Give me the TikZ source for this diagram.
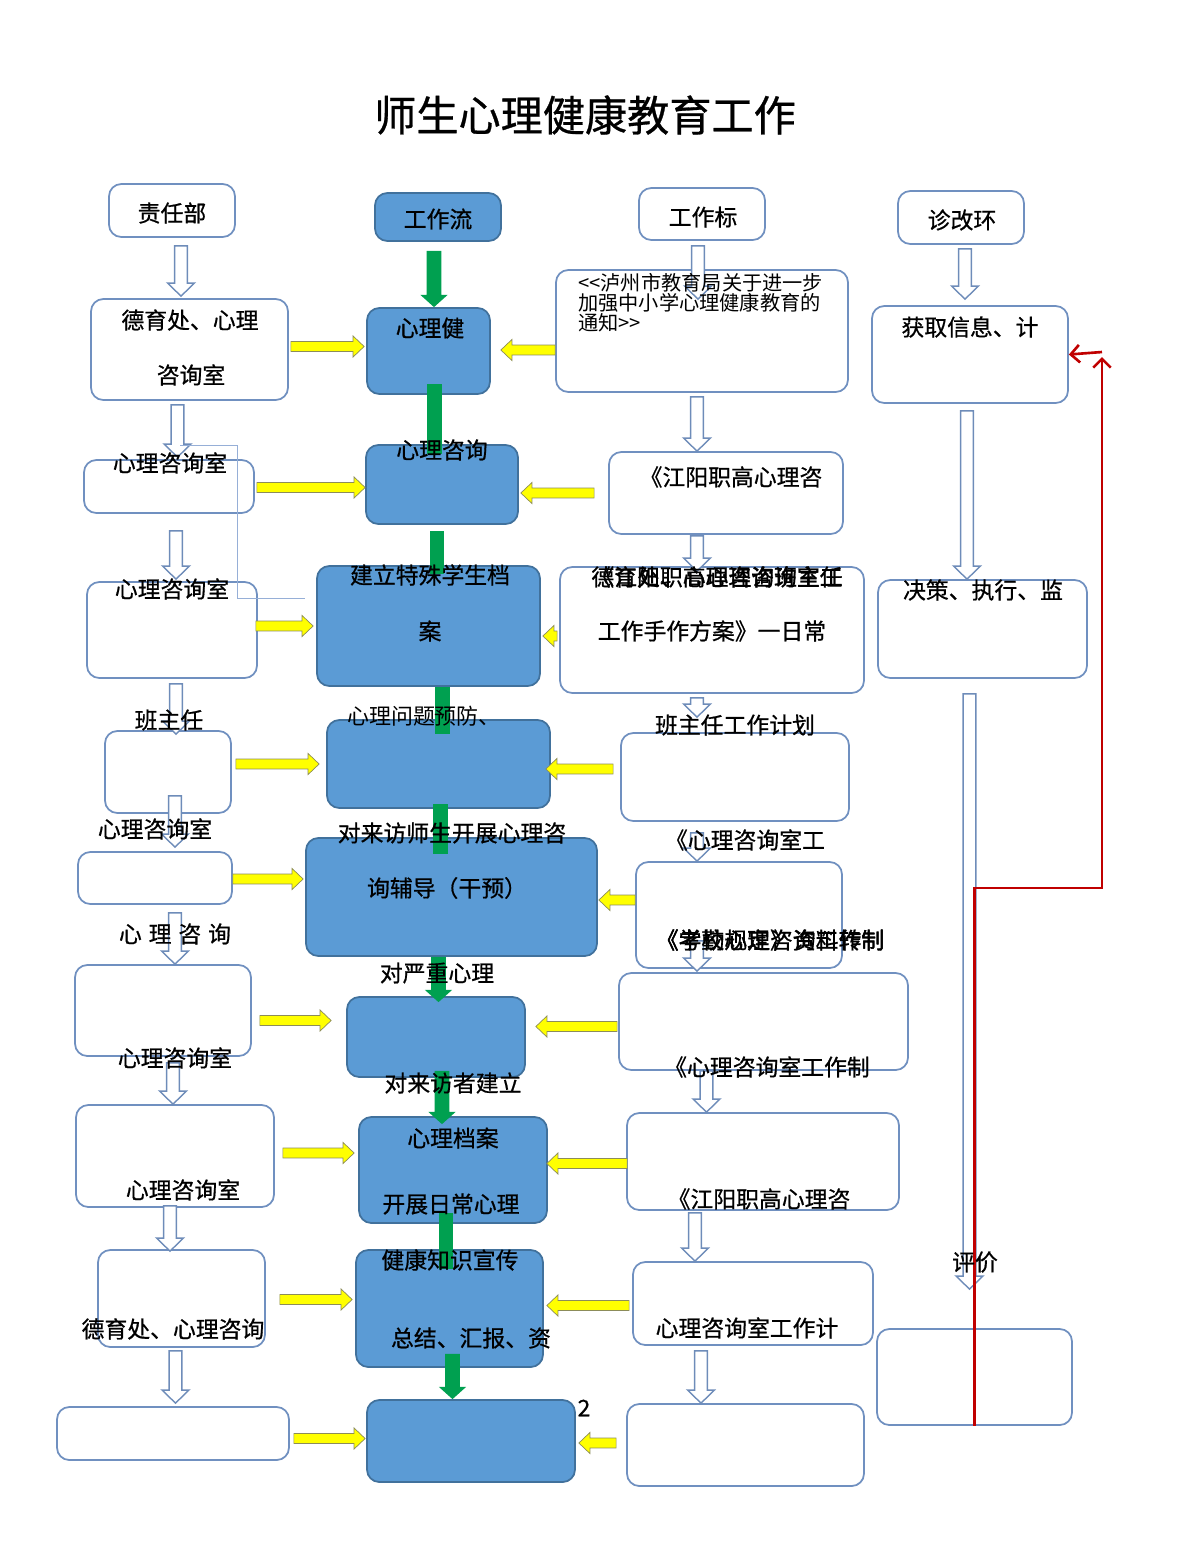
\documentclass[tikz,border=0pt]{standalone}
\usepackage{fontspec}
\setmainfont{Noto Sans CJK SC}[FakeBold=0.7]
\newfontfamily\thinfont{Noto Sans CJK SC}
\usetikzlibrary{fit,calc,arrows.meta}
\definecolor{boxline}{RGB}{112,144,192}
\definecolor{bluefill}{RGB}{91,155,213}
\definecolor{blueline}{RGB}{65,113,156}
\definecolor{arrline}{RGB}{110,140,185}
\definecolor{yel}{RGB}{255,255,0}
\definecolor{yelline}{RGB}{140,140,90}
\definecolor{grn}{RGB}{0,160,80}
\definecolor{redln}{RGB}{192,0,0}
\definecolor{thinblue}{RGB}{150,175,215}

\begin{document}
\begin{tikzpicture}[x=0.02cm, y=-0.02cm,
		wbox/.style={draw=boxline, line width=1pt, rounded corners=7pt, fill=white, inner sep=0pt},
		bbox/.style={draw=blueline, line width=1pt, rounded corners=7pt, fill=bluefill, inner sep=0pt},
		lbl/.style={font=\fontsize{13}{15}\selectfont, inner sep=0pt},
		shaftw/.store in=\arrsw, headw/.store in=\arrhw, tipl/.store in=\arrtl,
		hollowarr/.style={draw=arrline, fill=white, line width=0.8pt, shaftw=3.6pt, headw=7.6pt, tipl=7.4pt},
		yelarr/.style={draw=yelline, fill=yel, line width=0.4pt, shaftw=2.8pt, headw=6pt, tipl=6.3pt},
		grnarr/.style={draw=none, fill=grn, shaftw=4.2pt, headw=7.8pt, tipl=7pt},
		redarr/.style={draw=redln, line width=1.5pt, -{Straight Barb[length=5pt,width=10pt]}},
		downblk/.style={to path={let \p1=(\tikztostart), \p2=(\tikztotarget) in
			(\x1-\arrsw,\y1) -- (\x1-\arrsw,\y2+\arrtl) -- (\x1-\arrhw,\y2+\arrtl) -- (\x1,\y2)
			-- (\x1+\arrhw,\y2+\arrtl) -- (\x1+\arrsw,\y2+\arrtl) -- (\x1+\arrsw,\y1) -- cycle}},
		downbar/.style={to path={let \p1=(\tikztostart), \p2=(\tikztotarget) in
			(\x1-\arrsw,\y1) rectangle (\x1+\arrsw,\y2)}},
		rightblk/.style={to path={let \p1=(\tikztostart), \p2=(\tikztotarget) in
			(\x1,\y1-\arrsw) -- (\x2-\arrtl,\y1-\arrsw) -- (\x2-\arrtl,\y1-\arrhw) -- (\x2,\y1)
			-- (\x2-\arrtl,\y1+\arrhw) -- (\x2-\arrtl,\y1+\arrsw) -- (\x1,\y1+\arrsw) -- cycle}},
		leftblk/.style={to path={let \p1=(\tikztostart), \p2=(\tikztotarget) in
			(\x1,\y1-\arrsw) -- (\x2+\arrtl,\y1-\arrsw) -- (\x2+\arrtl,\y1-\arrhw) -- (\x2,\y1)
			-- (\x2+\arrtl,\y1+\arrhw) -- (\x2+\arrtl,\y1+\arrsw) -- (\x1,\y1+\arrsw) -- cycle}}
		]
		\useasboundingbox (0,0) rectangle (1200,1553);
		
		\node[font=\fontsize{24}{28}\selectfont, inner sep=0pt] (title) at (585,115) {师生心理健康教育工作};
		
		% white boxes
		\foreach \nm/\xa/\ya/\xb/\yb in {A0/109/184/235/237, A1/91/299/288/400, A2/84/460/254/513,
			A3/87/582/257/678, A4/105/731/231/813, A5/78/852/232/904, A6/75/965/251/1056,
			A7/76/1105/274/1207, A8/98/1250/265/1347, A9/57/1407/289/1460,
			C0/639/188/765/240, C1/556/270/848/392, C2/609/452/843/534, C3/560/567/864/693,
			C4/621/733/849/821, C5/636/862/842/968, C6/619/973/908/1070, C7/627/1113/899/1210,
			C8/633/1262/873/1345, C9/627/1404/864/1486,
			D0/898/191/1024/244, D1/872/306/1068/403, D2/878/580/1087/678, D3/877/1329/1072/1425}
		\node[wbox, fit={(\xa,\ya) (\xb,\yb)}] (\nm) {};
		
		% blue boxes
		\foreach \nm/\xa/\ya/\xb/\yb in {B0/375/193/501/241, B1/367/308/490/394, B2/366/445/518/524,
			B3/317/566/540/686, B4/327/720/550/808, B5/306/838/597/956, B6/347/997/525/1077,
			B7/359/1117/547/1223, B8/356/1250/543/1367, B9/367/1400/575/1482}
		\node[bbox, fit={(\xa,\ya) (\xb,\yb)}] (\nm) {};
		
		% hollow arrows
		\foreach \s/\dx/\dy/\t/\o in {A0/9/8/A1/-2, A1/-12/4/A2/-2, A2/7/17/A3/-2, A3/4/5/A4/4,
			A4/7/-18/A5/-4, A5/20/8/A6/0, A6/10/6/A7/0, A7/-5/-2/A8/2, A8/-6/3/A9/-3,
			C0/-4/5/C1/30, C1/-5/4/C2/0, C2/-29/1/C3/5, C3/-15/4/C4/-15, C4/-38/11/C5/0,
			C5/-42/-28/C6/-1, C6/-57/0/C7/0, C7/-68/2/C8/0, C8/-52/5/C9/0,
			D0/4/4/D1/-6, D1/-3/7/D2/0, D2/-13/15/D3/-39}
		\draw[hollowarr] (\s.south) ++(\dx,\dy) to[downblk] ($(\t.north)+(0,\o)$);
		
		% yellow arrows
		\foreach \s/\dx/\dy/\t/\o in {A1/2/-3/B1/-2, A2/2/1/B2/0, A3/-2/-4/B3/-3, A4/4/-8/B4/-7,
			A5/0/1/B5/-2, A6/8/10/B6/-15, A7/8/-3/B7/-4, A8/14/1/B8/-3, A9/4/5/B9/-1}
		\draw[yelarr] (\s.east) ++(\dx,\dy) to[rightblk] ($(\t.west)+(\o,0)$);
		\foreach \s/\dx/\dy/\t/\o in {C1/0/19/B1/10, C2/-14/0/B2/2, C3/-2/6/B3/2, C4/-7/-8/B4/-5,
			C5/0/-15/B5/1, C6/-1/5/B6/10, C7/1/2/B7/-1, C8/-3/2/B8/3, C9/-10/-2/B9/3}
		\draw[yelarr] (\s.west) ++(\dx,\dy) to[leftblk] ($(\t.east)+(\o,0)$);
		
		% green arrows
		\foreach \s/\dx/\dy/\t/\o in {B0/-4/9/B1/0, B5/-13/0/B6/6, B6/6/-7/B7/8, B8/3/-14/B9/0}
		\fill[grnarr] (\s.south) ++(\dx,\dy) to[downblk] ($(\t.north)+(0,\o)$);
		\foreach \s/\dx/\dy/\t/\o in {B1/6/-11/B2/10, B2/-5/6/B3/9, B3/14/0/B4/15, B4/2/-5/B5/17,
			B7/-7/-11/B8/20}
		\fill[grnarr] (\s.south) ++(\dx,\dy) to[downbar] ($(\t.north)+(0,\o)$);
		
		\draw[thinblue, line width=0.5pt] (180,445) -- (237,445) -- (237,598) -- (305,598);
		
		% red feedback
		\coordinate (rturn) at (1102,888);
		\coordinate (rtop) at (1102,357);
		\coordinate (rhook) at (1102,352);
		\draw[redarr] (D3.south) |- (rturn) -- (rtop);
		\draw[redarr] (rhook) -- (D1.east);
		
		% labels
		\foreach \nm/\tx/\ty/\t in {tA0/172/213/责任部, tA1a/190/320/德育处、心理, tA1b/191/375/咨询室,
			tA2/170/463/心理咨询室, tA3/172/589/心理咨询室, tA4/169/720/班主任, tA5/155/829/心理咨询室,
			tA6b/175/1058/心理咨询室, tA7/183/1190/心理咨询室, tA8/173/1329/德育处、心理咨询,
			tB0/438/219/工作流, tB1/430/328/心理健, tB2/442/450/心理咨询, tB3a/430/575/建立特殊学生档,
			tB3b/430/631/案, tB5a/452/833/对来访师生开展心理咨, tB5b/447/888/询辅导（干预）,
			tB6a/437/973/对严重心理, tB6b/453/1083/对来访者建立, tB7a/453/1138/心理档案,
			tB7b/451/1204/开展日常心理, tB8a/450/1260/健康知识宣传, tB8b/471/1338/总结、汇报、资,
			tC0/703/217/工作标, tC2/731/477/《江阳职高心理咨, tC3b/712/631/工作手作方案》一日常,
			tC4/735/725/班主任工作计划, tC5a/745/840/《心理咨询室工, tC6/767/1067/《心理咨询室工作制,
			tC7/759/1199/《江阳职高心理咨, tC8/747/1328/心理咨询室工作计,
			tD0/962/220/诊改环, tD1/970/327/获取信息、计, tD2/983/590/决策、执行、监, tD3/975/1262/评价}
		\node[lbl] (\nm) at (\tx,\ty) {\t};
		
		\node[lbl] (tA6a) at (175,934) {心\hspace{0.3em}理\hspace{0.3em}咨\hspace{0.3em}询};
		\node[lbl, font=\thinfont\fontsize{12.5}{14}\selectfont] (tB4) at (424,716) {心理问题预防、};
		\node[lbl] (tC3a) at (717,577) {《江阳职高心理咨询室工};
		\node[lbl] (tC3c) at (717,577) {德育处、心理咨询班主任};
		\node[lbl] (tC5b) at (770,940) {《学校心理咨询工作制};
		\node[lbl] (tC5c) at (770,940) {《考勤规定》资料转制};
		\node[lbl, anchor=north west, align=left, font=\thinfont\fontsize{11.5}{11.5}\selectfont] (tC1) at (578,273)
		{<{}<泸州市教育局关于进一步\\加强中小学心理健康教育的\\通知>{}>};
		\node[lbl] (pg) at (584,1408) {2};
	\end{tikzpicture}
\end{document}
